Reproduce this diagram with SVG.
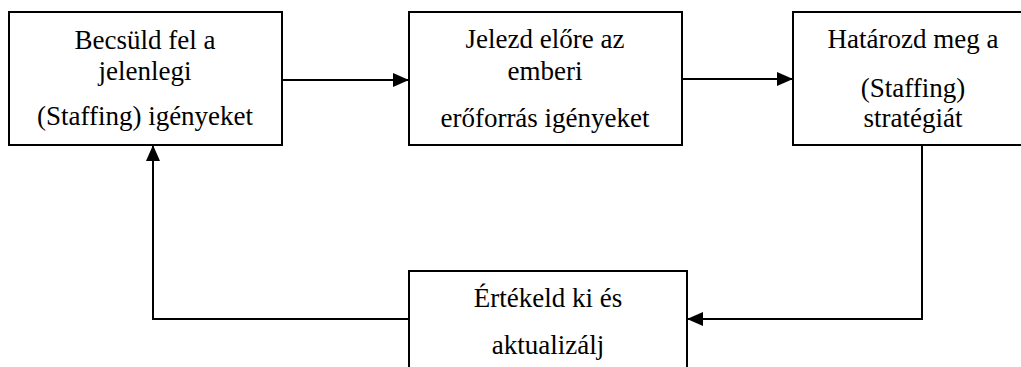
<svg xmlns="http://www.w3.org/2000/svg" width="1021" height="367" viewBox="0 0 1021 367">
<style>
.box{fill:#fff;stroke:#000;stroke-width:2}
.t{font-family:"Liberation Serif","Times New Roman",serif;font-size:27px;fill:#000;text-anchor:middle}
.c{fill:none;stroke:#000;stroke-width:2}
</style>
<defs>
<marker id="ah" viewBox="0 0 16 14" refX="16" refY="7" markerWidth="16" markerHeight="14" markerUnits="userSpaceOnUse" orient="auto">
<path d="M0,0 L16,7 L0,14 Z" fill="#000"/>
</marker>
</defs>
<rect width="1021" height="367" fill="#fff"/>
<g id="n1">
<rect class="box" x="9" y="12" width="273" height="133"/>
<text class="t" x="145" y="49">Becsüld fel a</text>
<text class="t" x="145" y="80">jelenlegi</text>
<text class="t" x="145" y="125">(Staffing) igényeket</text>
</g>
<g id="n2">
<rect class="box" x="409" y="12" width="273" height="133"/>
<text class="t" x="545" y="48">Jelezd előre az</text>
<text class="t" x="545" y="80">emberi</text>
<text class="t" x="545" y="127">erőforrás igényeket</text>
</g>
<g id="n3">
<rect class="box" x="793" y="12" width="240" height="133"/>
<text class="t" x="913" y="48">Határozd meg a</text>
<text class="t" x="913" y="97">(Staffing)</text>
<text class="t" x="913" y="127">stratégiát</text>
</g>
<g id="n4">
<rect class="box" x="409" y="271" width="278" height="110"/>
<text class="t" x="548" y="307">Értékeld ki és</text>
<text class="t" x="548" y="354">aktualizálj</text>
</g>
<g id="connectors">
<path class="c" d="M282,80 L409,80" marker-end="url(#ah)"/>
<path class="c" d="M682,79 L793,79" marker-end="url(#ah)"/>
<path class="c" d="M922,145 L922,319 L687,319" marker-end="url(#ah)"/>
<path class="c" d="M409,319 L153,319 L153,145" marker-end="url(#ah)"/>
</g>
</svg>
